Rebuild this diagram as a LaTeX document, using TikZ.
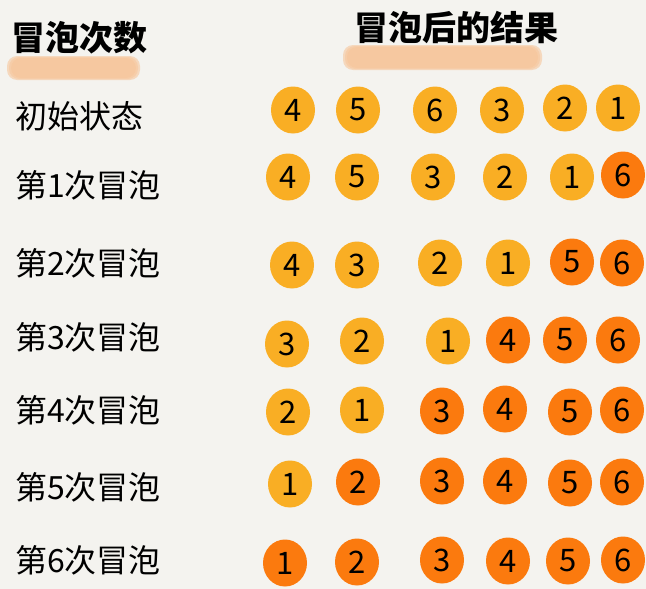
\documentclass[tikz,border=0pt]{standalone}
\usepackage{fontspec}
\setmainfont{Noto Sans CJK SC}
\usetikzlibrary{shapes.geometric}
\definecolor{bgc}{HTML}{F4F3EF}
\definecolor{lightball}{HTML}{F9AE24}
\definecolor{darkball}{HTML}{FB7A0E}
\definecolor{hl}{HTML}{F7BE8C}
\tikzset{
  ball/.style={ellipse, minimum width=44pt, minimum height=47pt, inner sep=0pt,
    font=\fontsize{31}{31}\selectfont, text=black},
  lo/.style={ball, fill=lightball},
  hi/.style={ball, fill=darkball},
  rowlabel/.style={anchor=west, inner sep=0pt, font=\fontsize{32}{32}\selectfont},
  heading/.style={inner sep=0pt, font=\fontsize{34}{34}\selectfont\bfseries},
}
\begin{document}
\begin{tikzpicture}[x=1pt,y=-1pt]
\fill[bgc] (0,0) rectangle (646,589);
\useasboundingbox (0,0) rectangle (646,589);
% heading highlights (soft strokes)
\foreach \o in {0.3,0.4,0.5}{
  \pgfmathsetmacro{\s}{(0.5-\o)*20}
  \fill[hl, opacity=\o, rounded corners=10pt] (7+\s,56+\s/2) rectangle (140-\s,80-\s/2);
  \fill[hl, opacity=\o, rounded corners=10pt] (343+\s,45+\s/2) rectangle (542-\s,70-\s/2);
}
\node[heading] (h1) at (80,38) {冒泡次数};
\node[heading] (h2) at (456,28) {冒泡后的结果};
% row labels
\node[rowlabel] (l0) at (15,116) {初始状态};
\node[rowlabel] (l1) at (15,185) {第1次冒泡};
\node[rowlabel] (l2) at (15,263) {第2次冒泡};
\node[rowlabel] (l3) at (15,337) {第3次冒泡};
\node[rowlabel] (l4) at (15,410) {第4次冒泡};
\node[rowlabel] (l5) at (15,487) {第5次冒泡};
\node[rowlabel] (l6) at (15,560) {第6次冒泡};
% row 0
\node[lo] (c01) at (293,110) {4};
\node[lo] (c02) at (358,110) {5};
\node[lo] (c03) at (435,110) {6};
\node[lo] (c04) at (502,110) {3};
\node[lo] (c05) at (565,108) {2};
\node[lo] (c06) at (618,108) {1};
% row 1
\node[lo] (c11) at (288,177) {4};
\node[lo] (c12) at (357,177) {5};
\node[lo] (c13) at (433,177) {3};
\node[lo] (c14) at (505,177) {2};
\node[lo] (c15) at (572,177) {1};
\node[hi] (c16) at (623,175) {6};
% row 2
\node[lo] (c21) at (292,265) {4};
\node[lo] (c22) at (357,265) {3};
\node[lo] (c23) at (440,263) {2};
\node[lo] (c24) at (508,263) {1};
\node[hi] (c25) at (572,262) {5};
\node[hi] (c26) at (622,263) {6};
% row 3
\node[lo] (c31) at (287,344) {3};
\node[lo] (c32) at (362,341) {2};
\node[lo] (c33) at (448,341) {1};
\node[hi] (c34) at (508,340) {4};
\node[hi] (c35) at (565,340) {5};
\node[hi] (c36) at (618,340) {6};
% row 4
\node[lo] (c41) at (288,412) {2};
\node[lo] (c42) at (362,410) {1};
\node[hi] (c43) at (442,411) {3};
\node[hi] (c44) at (505,409) {4};
\node[hi] (c45) at (570,412) {5};
\node[hi] (c46) at (622,410) {6};
% row 5
\node[lo] (c51) at (290,484) {1};
\node[hi] (c52) at (358,482) {2};
\node[hi] (c53) at (442,481) {3};
\node[hi] (c54) at (505,481) {4};
\node[hi] (c55) at (570,483) {5};
\node[hi] (c56) at (622,482) {6};
% row 6
\node[hi] (c61) at (285,563) {1};
\node[hi] (c62) at (357,562) {2};
\node[hi] (c63) at (442,560) {3};
\node[hi] (c64) at (508,561) {4};
\node[hi] (c65) at (568,561) {5};
\node[hi] (c66) at (623,560) {6};
\end{tikzpicture}
\end{document}
